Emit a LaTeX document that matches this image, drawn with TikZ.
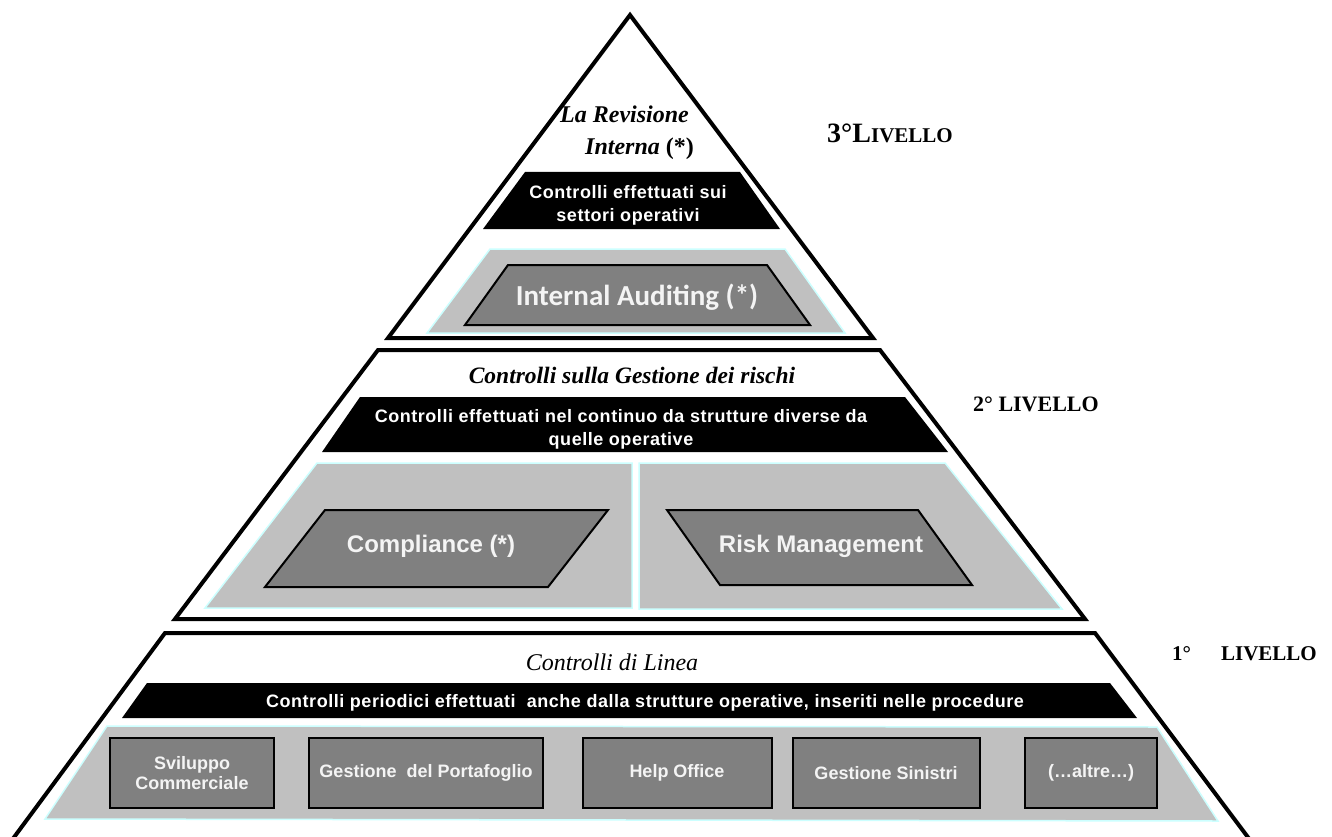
\documentclass[tikz,border=0pt]{standalone}
\usepackage{fontspec}
\setmainfont{Liberation Serif}
\setsansfont{Liberation Sans}
\newfontfamily\calfont{Carlito}
\newfontfamily\spsans[LetterSpace=3]{Liberation Sans}
\definecolor{panelgray}{HTML}{C0C0C0}
\definecolor{plategray}{HTML}{808080}
\definecolor{paleedge}{HTML}{CCFFFF}
\definecolor{whitetext}{HTML}{F4F4F4}
\begin{document}
\begin{tikzpicture}[x=1pt,y=-1pt,
  level/.style={draw=black,line width=4pt,fill=white},
  band/.style={fill=black},
  panel/.style={fill=panelgray,draw=paleedge,line width=1.5pt},
  plate/.style={fill=plategray,draw=black,line width=2pt},
  unitbox/.style={fill=plategray,draw=black,line width=2pt,inner sep=0pt,
    text=whitetext,align=center,font=\sffamily\bfseries\fontsize{18}{20}\selectfont},
  bandtext/.style={text=white,align=center,inner sep=0pt,
    font=\spsans\bfseries\fontsize{18}{23}\selectfont},
  platetext/.style={text=whitetext,inner sep=0pt,
    font=\sffamily\bfseries\fontsize{24}{24}\selectfont},
  titletext/.style={inner sep=0pt,font=\itshape\fontsize{24}{24}\selectfont},
  leveltext/.style={inner sep=0pt,anchor=base west,font=\bfseries\fontsize{22}{22}\selectfont}
]
\useasboundingbox (0,0) rectangle (1332,837);

% ---------- 3rd level: triangle ----------
\draw[level] (630,15) -- (873,338) -- (388,338) -- cycle;
\fill[band] (525,172) -- (740,172) -- (780,229) -- (483,229) -- cycle;
\draw[panel] (490,249) -- (785,249) -- (845,333) -- (427,333) -- cycle;
\draw[plate] (508,265) -- (767,265) -- (810,325) -- (465,325) -- cycle;
\node[titletext,anchor=base west,font=\bfseries\itshape\fontsize{24}{24}\selectfont] (rev1) at (560,123) {La Revisione};
\node[titletext,anchor=base west,font=\bfseries\itshape\fontsize{24}{24}\selectfont] (rev2) at (585,155) {Interna \textup{(*)}};
\node[bandtext] (band3) at (628,205) {Controlli effettuati sui\\settori operativi};
\node[text=whitetext,inner sep=0pt,font=\calfont\bfseries\fontsize{29}{29}\selectfont] (ia) at (637,297) {Internal Auditing (*)};
\node[inner sep=0pt,anchor=base west,font=\bfseries] (lv3) at (827,143)
  {\fontsize{28}{28}\selectfont 3°L\fontsize{21}{21}\selectfont IVELLO};

% ---------- 2nd level: middle trapezoid ----------
\draw[level] (378,350) -- (880,350) -- (1085,619) -- (175,619) -- cycle;
\fill[band] (360,397) -- (905,397) -- (948,452) -- (322,452) -- cycle;
\draw[panel] (317,463) -- (632,463) -- (632,608) -- (205,608) -- cycle;
\draw[panel] (639,463) -- (945,463) -- (1062,609) -- (639,609) -- cycle;
\draw[plate] (325,510) -- (608,510) -- (548,587) -- (265,587) -- cycle;
\draw[plate] (667,510) -- (918,510) -- (972,585) -- (720,585) -- cycle;
\node[titletext,anchor=base,font=\bfseries\itshape\fontsize{23.5}{23.5}\selectfont] (t2) at (632,383) {Controlli sulla Gestione dei rischi};
\node[bandtext] (band2) at (621,429) {Controlli effettuati nel continuo da strutture diverse da\\quelle operative};
\node[platetext] (comp) at (431,546) {Compliance (*)};
\node[platetext] (risk) at (821,546) {Risk Management};
\node[leveltext] (lv2) at (973,411) {2° LIVELLO};

% ---------- 1st level: bottom trapezoid ----------
\draw[level,fill=white] (12,840) -- (165,633) -- (1095,633) -- (1250,840);
\fill[band] (147,683) -- (1110,683) -- (1137,718) -- (122,718) -- cycle;
\draw[panel] (107,726) -- (1157,727) -- (1218,821) -- (45,819) -- cycle;
\node[titletext,anchor=base] (t1) at (612,670) {Controlli di Linea};
\node[bandtext,anchor=base] (band1) at (645,707) {Controlli periodici effettuati~ anche dalla strutture operative, inseriti nelle procedure};
\node[unitbox,minimum width=164pt,minimum height=70pt] (u1) at (192,773) {Sviluppo\\Commerciale};
\node[unitbox,minimum width=234pt,minimum height=70pt] (u2) at (426,773) {Gestione~ del Portafoglio};
\node[unitbox,minimum width=189pt,minimum height=70pt] (u3) at (677,773) {Help Office};
\node[unitbox,minimum width=187pt,minimum height=70pt] (u4) at (886,773) {Gestione Sinistri};
\node[unitbox,minimum width=132pt,minimum height=70pt] (u5) at (1091,773) {(…altre…)};
\node[leveltext,font=\bfseries\fontsize{21}{21}\selectfont] (lv1) at (1172,660) {1°\hspace{30pt}LIVELLO};
\end{tikzpicture}
\end{document}
